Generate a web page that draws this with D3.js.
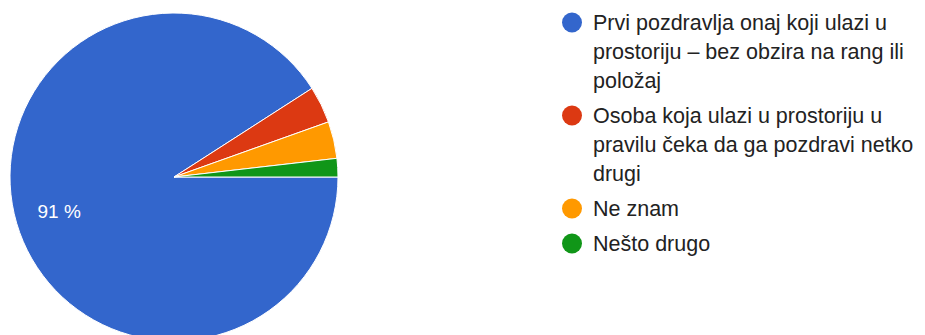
<!DOCTYPE html>
<html>
<head>
<meta charset="utf-8">
<script src="https://cdn.jsdelivr.net/npm/d3@7"></script>
<style>
  body { margin: 0; background: #fff; }
  text { font-family: "Liberation Sans", Arial, sans-serif; }
</style>
</head>
<body>
<div id="chart"></div>
<script>
// answers and number of responses for each
const answers = [
  "Prvi pozdravlja onaj koji ulazi u prostoriju – bez obzira na rang ili položaj",
  "Osoba koja ulazi u prostoriju u pravilu čeka da ga pozdravi netko drugi",
  "Ne znam",
  "Nešto drugo"
];
const responses = [50, 2, 2, 1];
const palette = ["#3366cc", "#dc3912", "#ff9900", "#109618"];

const width = 925;
const height = 335;
const cx = 174;
const cy = 177;
const radius = 164;

const svg = d3
  .select("#chart")
  .append("svg")
  .attr("width", width)
  .attr("height", height);

const data = answers.map(function(a, i) {
  return { answer: a, count: responses[i], color: palette[i] };
});
const total = d3.sum(responses);

// slices run clockwise from 3 o'clock
const pie = d3
  .pie()
  .sort(null)
  .value(function(d) { return d.count; })
  .startAngle(Math.PI / 2)
  .endAngle(Math.PI / 2 + 2 * Math.PI);

const arc = d3.arc().innerRadius(0).outerRadius(radius);
const labelArc = d3.arc().innerRadius(radius * 0.73).outerRadius(radius * 0.73);

const g = svg.append("g").attr("transform", "translate(" + cx + "," + cy + ")");

const slices = pie(data);

g.selectAll("path")
  .data(slices)
  .enter()
  .append("path")
  .attr("d", arc)
  .attr("fill", function(d) { return d.data.color; })
  .attr("stroke", "#fff")
  .attr("stroke-width", 1);

// only slices big enough get a percentage label
g.selectAll(".pct")
  .data(slices.filter(function(d) { return d.data.count / total > 0.05; }))
  .enter()
  .append("text")
  .attr("class", "pct")
  .attr("transform", function(d) { return "translate(" + labelArc.centroid(d) + ")"; })
  .attr("text-anchor", "middle")
  .attr("dy", "0.36em")
  .attr("font-size", 19)
  .attr("fill", "#fff")
  .text(function(d) { return Math.round(d.data.count / total * 100) + "\u00a0%"; });

// legend with wrapped labels
const legendX = 572;
const textX = 593;
const maxWidth = 335;
const lineHeight = 29;
const itemGap = 35;
let y = 30;

const legend = svg.append("g").attr("class", "legend");

data.forEach(function(d) {
  const item = legend.append("g");
  const text = item
    .append("text")
    .attr("x", textX)
    .attr("y", y)
    .attr("font-size", 21.5)
    .attr("fill", "#222");

  const words = d.answer.split(" ");
  let line = [];
  let tspan = text.append("tspan").attr("x", textX).attr("y", y);
  let lines = 1;
  words.forEach(function(w) {
    line.push(w);
    tspan.text(line.join(" "));
    if (tspan.node().getComputedTextLength() > maxWidth && line.length > 1) {
      line.pop();
      tspan.text(line.join(" "));
      line = [w];
      tspan = text
        .append("tspan")
        .attr("x", textX)
        .attr("y", y + lines * lineHeight)
        .text(w);
      lines += 1;
    }
  });

  item
    .append("circle")
    .attr("cx", legendX)
    .attr("cy", y - 7.5)
    .attr("r", 10)
    .attr("fill", d.color);

  y += (lines - 1) * lineHeight + itemGap;
});
</script>
</body>
</html>
